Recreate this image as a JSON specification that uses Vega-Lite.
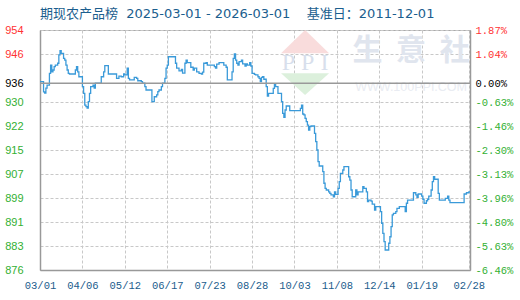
{
  "$schema": "https://vega.github.io/schema/vega-lite/v6.json",
  "width": 430,
  "height": 240,
  "autosize": {"type": "none"},
  "padding": {"left": 40, "top": 30, "right": 50, "bottom": 30},
  "background": "white",
  "title": {"text": "期现农产品榜\u00a0\u00a02025-03-01 - 2026-03-01\u00a0\u00a0\u00a0\u00a0基准日：2011-12-01", "anchor": "start", "frame": "group", "font": "DejaVu Sans, Noto Sans CJK SC", "fontSize": 13, "fontWeight": "normal", "color": "#1b5e8e", "offset": 3},
  "config": {"view": {"stroke": "#aaa"}},
  "layer": [
    {
      "data": {"values": [{}]},
      "mark": {"type": "point", "shape": "M0,-0.485L1,0.485L-1,0.485Z", "size": 2304, "filled": true, "color": "#f9dcdc", "opacity": 1, "strokeWidth": 0},
      "encoding": {
        "x": {"datum": {"year": 2025, "month": 10, "date": 12, "utc": true}, "type": "temporal"},
        "y": {"datum": 950.2, "type": "quantitative", "axis": null}
      }
    },
    {
      "data": {"values": [{}]},
      "mark": {"type": "point", "shape": "M-1,-0.45L1,-0.45L0,0.45Z", "size": 2304, "filled": true, "color": "#dcf0dc", "opacity": 1, "strokeWidth": 0},
      "encoding": {
        "x": {"datum": {"year": 2025, "month": 10, "date": 12, "utc": true}, "type": "temporal"},
        "y": {"datum": 936.4, "type": "quantitative", "axis": null}
      }
    },
    {
      "data": {"values": [{}]},
      "mark": {"type": "text", "text": "P\u00a0P\u00a0I", "font": "Liberation Serif", "fontSize": 24, "color": "#d8dfec", "align": "center", "baseline": "middle"},
      "encoding": {
        "x": {"datum": {"year": 2025, "month": 10, "date": 12, "utc": true}, "type": "temporal"},
        "y": {"datum": 943.2, "type": "quantitative", "axis": null}
      }
    },
    {
      "data": {"values": [{}]},
      "mark": {"type": "text", "text": "生\u00a0\u00a0意\u00a0\u00a0社", "font": "Noto Sans CJK SC", "fontSize": 30, "fontWeight": "bold", "color": "#e0e5ee", "align": "center", "baseline": "middle"},
      "encoding": {
        "x": {"datum": {"year": 2026, "month": 1, "date": 10, "utc": true}, "type": "temporal"},
        "y": {"datum": 947.2, "type": "quantitative", "axis": null}
      }
    },
    {
      "data": {"values": [{}]},
      "mark": {"type": "text", "text": "WWW.100PPI.COM", "font": "Liberation Sans", "fontSize": 12.5, "color": "#e9ecf2", "align": "center", "baseline": "middle"},
      "encoding": {
        "x": {"datum": {"year": 2026, "month": 1, "date": 10, "utc": true}, "type": "temporal"},
        "y": {"datum": 935.6, "type": "quantitative", "axis": null}
      }
    },
    {
      "data": {"values": [
        {"date":"2025-03-01","value":937.2},{"date":"2025-03-04","value":933.9},{"date":"2025-03-05","value":933.5},{"date":"2025-03-06","value":935.1},{"date":"2025-03-07","value":936.1},{"date":"2025-03-09","value":939.9},{"date":"2025-03-10","value":942.6},{"date":"2025-03-11","value":940.4},{"date":"2025-03-12","value":941.0},{"date":"2025-03-13","value":942.1},{"date":"2025-03-14","value":942.6},{"date":"2025-03-16","value":943.2},{"date":"2025-03-17","value":945.9},{"date":"2025-03-18","value":947.3},{"date":"2025-03-19","value":946.4},{"date":"2025-03-21","value":944.8},{"date":"2025-03-22","value":944.2},{"date":"2025-03-23","value":942.6},{"date":"2025-03-24","value":941.0},{"date":"2025-03-25","value":939.9},{"date":"2025-03-26","value":939.7},{"date":"2025-03-31","value":941.0},
        {"date":"2025-04-01","value":942.1},{"date":"2025-04-02","value":940.4},{"date":"2025-04-03","value":938.8},{"date":"2025-04-06","value":935.6},{"date":"2025-04-07","value":933.4},{"date":"2025-04-08","value":929.6},{"date":"2025-04-09","value":929.1},{"date":"2025-04-10","value":928.6},{"date":"2025-04-11","value":930.7},{"date":"2025-04-12","value":933.4},{"date":"2025-04-13","value":935.6},{"date":"2025-04-15","value":936.1},{"date":"2025-04-16","value":935.1},{"date":"2025-04-17","value":936.7},{"date":"2025-04-22","value":938.8},{"date":"2025-04-24","value":940.4},{"date":"2025-04-25","value":942.4},{"date":"2025-04-28","value":939.7},
        {"date":"2025-05-05","value":938.3},{"date":"2025-05-07","value":939.0},{"date":"2025-05-09","value":938.8},{"date":"2025-05-11","value":939.7},{"date":"2025-05-12","value":939.4},{"date":"2025-05-14","value":941.6},{"date":"2025-05-15","value":938.3},{"date":"2025-05-16","value":937.8},{"date":"2025-05-20","value":938.6},{"date":"2025-05-22","value":938.3},{"date":"2025-05-23","value":937.5},{"date":"2025-05-26","value":937.2},{"date":"2025-05-27","value":936.7},{"date":"2025-05-29","value":935.6},{"date":"2025-05-30","value":934.5},
        {"date":"2025-06-04","value":930.7},{"date":"2025-06-06","value":932.3},{"date":"2025-06-08","value":932.9},{"date":"2025-06-09","value":934.0},{"date":"2025-06-10","value":934.5},{"date":"2025-06-12","value":935.6},{"date":"2025-06-13","value":936.7},{"date":"2025-06-15","value":938.3},{"date":"2025-06-16","value":941.6},{"date":"2025-06-17","value":942.6},{"date":"2025-06-18","value":945.3},{"date":"2025-06-24","value":943.2},{"date":"2025-06-25","value":941.6},{"date":"2025-06-27","value":940.7},{"date":"2025-06-29","value":941.2},{"date":"2025-06-30","value":940.0},
        {"date":"2025-07-02","value":943.2},{"date":"2025-07-03","value":944.2},{"date":"2025-07-04","value":943.4},{"date":"2025-07-07","value":941.9},{"date":"2025-07-09","value":941.0},{"date":"2025-07-10","value":941.6},{"date":"2025-07-12","value":940.4},{"date":"2025-07-14","value":939.9},{"date":"2025-07-16","value":939.7},{"date":"2025-07-17","value":940.3},{"date":"2025-07-18","value":943.2},{"date":"2025-07-20","value":943.4},{"date":"2025-07-21","value":942.6},{"date":"2025-07-27","value":942.1},{"date":"2025-07-28","value":941.6},{"date":"2025-07-29","value":942.9},{"date":"2025-07-31","value":943.4},
        {"date":"2025-08-04","value":942.6},{"date":"2025-08-06","value":941.9},{"date":"2025-08-07","value":937.8},{"date":"2025-08-11","value":940.4},{"date":"2025-08-12","value":944.8},{"date":"2025-08-13","value":946.2},{"date":"2025-08-14","value":944.2},{"date":"2025-08-15","value":943.2},{"date":"2025-08-16","value":942.6},{"date":"2025-08-17","value":943.7},{"date":"2025-08-19","value":944.2},{"date":"2025-08-20","value":943.0},{"date":"2025-08-22","value":942.3},{"date":"2025-08-23","value":943.0},{"date":"2025-08-24","value":942.6},{"date":"2025-08-26","value":943.4},{"date":"2025-08-27","value":942.3},{"date":"2025-08-28","value":939.9},{"date":"2025-08-30","value":939.6},{"date":"2025-08-31","value":939.4},
        {"date":"2025-09-02","value":938.8},{"date":"2025-09-03","value":938.3},{"date":"2025-09-04","value":937.2},{"date":"2025-09-05","value":938.6},{"date":"2025-09-06","value":938.8},{"date":"2025-09-07","value":938.0},{"date":"2025-09-09","value":935.6},{"date":"2025-09-10","value":932.5},{"date":"2025-09-11","value":933.4},{"date":"2025-09-15","value":935.0},{"date":"2025-09-16","value":936.3},{"date":"2025-09-17","value":935.6},{"date":"2025-09-19","value":933.4},{"date":"2025-09-22","value":930.7},{"date":"2025-09-23","value":926.9},{"date":"2025-09-24","value":925.6},{"date":"2025-09-25","value":928.0},{"date":"2025-09-26","value":929.3},{"date":"2025-09-29","value":927.8},
        {"date":"2025-10-08","value":928.5},{"date":"2025-10-09","value":929.6},{"date":"2025-10-10","value":926.7},{"date":"2025-10-11","value":926.4},{"date":"2025-10-12","value":925.3},{"date":"2025-10-13","value":924.2},{"date":"2025-10-14","value":923.1},{"date":"2025-10-15","value":921.5},{"date":"2025-10-16","value":922.6},{"date":"2025-10-17","value":922.8},{"date":"2025-10-20","value":920.4},{"date":"2025-10-21","value":917.7},{"date":"2025-10-22","value":915.0},{"date":"2025-10-23","value":911.2},{"date":"2025-10-24","value":909.8},{"date":"2025-10-27","value":908.0},{"date":"2025-10-28","value":904.2},{"date":"2025-10-29","value":902.5},{"date":"2025-10-30","value":902.0},
        {"date":"2025-11-01","value":901.4},{"date":"2025-11-02","value":900.9},{"date":"2025-11-03","value":900.4},{"date":"2025-11-05","value":899.8},{"date":"2025-11-06","value":901.4},{"date":"2025-11-07","value":900.6},{"date":"2025-11-09","value":902.5},{"date":"2025-11-10","value":904.7},{"date":"2025-11-11","value":907.4},{"date":"2025-11-13","value":908.5},{"date":"2025-11-14","value":909.6},{"date":"2025-11-18","value":906.3},{"date":"2025-11-19","value":905.2},{"date":"2025-11-20","value":902.0},{"date":"2025-11-21","value":899.8},{"date":"2025-11-24","value":902.0},{"date":"2025-11-25","value":900.4},{"date":"2025-11-26","value":901.4},{"date":"2025-11-30","value":903.1},
        {"date":"2025-12-01","value":902.5},{"date":"2025-12-03","value":901.4},{"date":"2025-12-04","value":898.2},{"date":"2025-12-05","value":898.7},{"date":"2025-12-07","value":898.4},{"date":"2025-12-08","value":897.4},{"date":"2025-12-10","value":895.5},{"date":"2025-12-11","value":896.6},{"date":"2025-12-15","value":895.0},{"date":"2025-12-16","value":891.2},{"date":"2025-12-17","value":887.9},{"date":"2025-12-18","value":885.2},{"date":"2025-12-19","value":882.5},{"date":"2025-12-22","value":884.7},{"date":"2025-12-23","value":886.8},{"date":"2025-12-24","value":890.1},{"date":"2025-12-25","value":893.9},{"date":"2025-12-26","value":894.4},{"date":"2025-12-28","value":895.0},{"date":"2025-12-29","value":896.0},{"date":"2025-12-31","value":896.6},
        {"date":"2026-01-05","value":895.0},{"date":"2026-01-06","value":897.7},{"date":"2026-01-07","value":898.7},{"date":"2026-01-12","value":901.1},{"date":"2026-01-14","value":900.4},{"date":"2026-01-15","value":899.6},{"date":"2026-01-16","value":900.7},{"date":"2026-01-19","value":900.0},{"date":"2026-01-20","value":899.0},{"date":"2026-01-21","value":897.7},{"date":"2026-01-23","value":898.5},{"date":"2026-01-24","value":899.0},{"date":"2026-01-25","value":900.0},{"date":"2026-01-27","value":902.0},{"date":"2026-01-28","value":904.7},{"date":"2026-01-29","value":906.3},{"date":"2026-01-30","value":905.5},
        {"date":"2026-02-02","value":900.9},{"date":"2026-02-03","value":898.7},{"date":"2026-02-08","value":899.3},{"date":"2026-02-10","value":900.0},{"date":"2026-02-11","value":898.7},{"date":"2026-02-12","value":897.9},{"date":"2026-02-24","value":900.7},{"date":"2026-02-26","value":901.1},{"date":"2026-02-28","value":901.4},{"date":"2026-03-01","value":901.4}
      ]},
      "mark": {"type": "line", "interpolate": "step-after", "color": "#3a9ad9", "strokeWidth": 1.3},
      "encoding": {
        "x": {
          "field": "date", "type": "temporal",
          "scale": {"type": "utc", "domain": [{"year": 2025, "month": 3, "date": 1, "utc": true}, {"year": 2026, "month": 3, "date": 1, "utc": true}]},
          "axis": {
            "title": null,
            "values": [
              {"year": 2025, "month": 3, "date": 1, "utc": true},
              {"year": 2025, "month": 4, "date": 6, "utc": true},
              {"year": 2025, "month": 5, "date": 12, "utc": true},
              {"year": 2025, "month": 6, "date": 17, "utc": true},
              {"year": 2025, "month": 7, "date": 23, "utc": true},
              {"year": 2025, "month": 8, "date": 28, "utc": true},
              {"year": 2025, "month": 10, "date": 3, "utc": true},
              {"year": 2025, "month": 11, "date": 8, "utc": true},
              {"year": 2025, "month": 12, "date": 14, "utc": true},
              {"year": 2026, "month": 1, "date": 19, "utc": true},
              {"year": 2026, "month": 2, "date": 28, "utc": true}
            ],
            "labelExpr": "utcFormat(datum.value, '%m/%d')",
            "grid": true, "gridDash": [3, 2], "gridColor": "#c8c8c8",
            "ticks": false, "domainColor": "#999", "domainWidth": 1.5,
            "labelFont": "Liberation Mono", "labelFontSize": 10.5, "labelColor": "#1a5c8c",
            "labelPadding": 10, "labelFlush": false, "labelOverlap": false
          }
        },
        "y": {
          "field": "value", "type": "quantitative",
          "scale": {"domain": [876, 954], "nice": false, "zero": false},
          "axis": {
            "title": null,
            "values": [954, 946.2, 936.7, 930.6, 922.8, 915, 907.2, 899.4, 891.6, 883.8, 876],
            "labelExpr": "floor(datum.value)",
            "labelColor": {"condition": [{"test": "datum.value > 937", "value": "#ff3333"}, {"test": "datum.value < 936", "value": "#33b033"}], "value": "#000000"},
            "grid": true, "gridDash": [3, 2], "gridColor": "#c8c8c8",
            "ticks": false, "domainColor": "#999", "domainWidth": 1.5,
            "labelFont": "Liberation Sans", "labelFontSize": 11, "labelPadding": 17,
            "labelOverlap": false, "labelFlush": false
          }
        }
      }
    },
    {
      "data": {"values": [{"base": 936.7}]},
      "mark": {"type": "rule", "color": "#999", "strokeWidth": 1.5},
      "encoding": {
        "y": {
          "field": "base", "type": "quantitative",
          "scale": {"domain": [876, 954], "nice": false, "zero": false},
          "axis": {
            "orient": "right",
            "title": null,
            "values": [954, 946.2, 936.7, 930.6, 922.8, 915, 907.2, 899.4, 891.6, 883.8, 876],
            "labelExpr": "datum.value == 954 ? '1.87%' : datum.value == 946.2 ? '1.04%' : datum.value == 936.7 ? '0.00%' : datum.value == 930.6 ? '-0.63%' : datum.value == 922.8 ? '-1.46%' : datum.value == 915 ? '-2.30%' : datum.value == 907.2 ? '-3.13%' : datum.value == 899.4 ? '-3.96%' : datum.value == 891.6 ? '-4.80%' : datum.value == 883.8 ? '-5.63%' : '-6.46%'",
            "labelColor": {"condition": [{"test": "datum.value > 937", "value": "#ff3333"}, {"test": "datum.value < 936", "value": "#33b033"}], "value": "#000000"},
            "grid": false, "ticks": false, "domainColor": "#999", "domainWidth": 1.5,
            "labelFont": "Liberation Mono", "labelFontSize": 10.5, "labelPadding": 5,
            "labelOverlap": false, "labelFlush": false
          }
        }
      }
    }
  ],
  "resolve": {"axis": {"y": "independent"}}
}
